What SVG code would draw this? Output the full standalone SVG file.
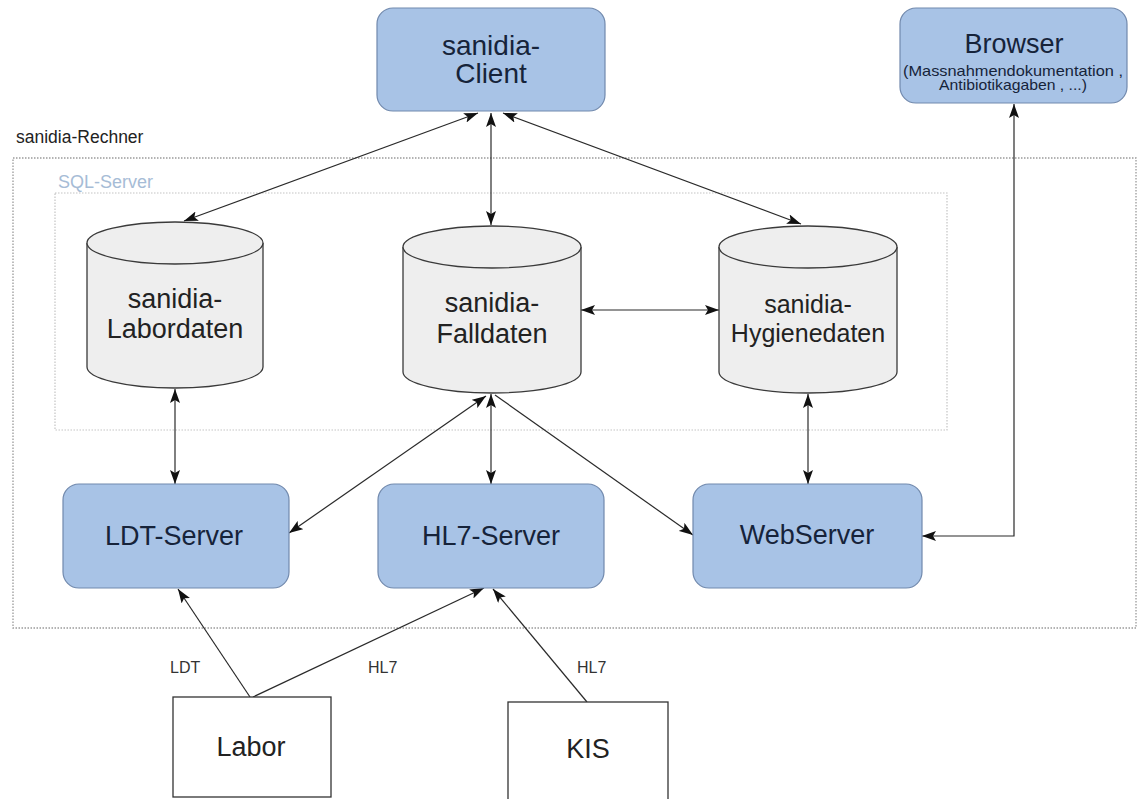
<svg xmlns="http://www.w3.org/2000/svg" width="1138" height="799" viewBox="0 0 1138 799">
<style>
.box{fill:#a8c3e6;stroke:#7189ad;stroke-width:1.2}
.cyl{fill:#eeeeee;stroke:#3a3a3a;stroke-width:1.3}
.plain{fill:#ffffff;stroke:#333333;stroke-width:1.3}
.t{font-family:"Liberation Sans",Arial,sans-serif;text-anchor:middle}
.bt{fill:#16233a;font-size:27px}
.ct{fill:#222222;font-size:27px}
.lbl{font-family:"Liberation Sans",Arial,sans-serif;font-size:16px;fill:#333333}
.con{stroke:#2a2a2a;stroke-width:1.2;fill:none}
</style>
<defs>
<marker id="ah" viewBox="0 0 14 10" refX="14" refY="5" markerWidth="14" markerHeight="10" markerUnits="userSpaceOnUse" orient="auto-start-reverse">
<path d="M0,0 L14,5 L0,10 L3,5 z" fill="#111111"/>
</marker>
</defs>
<rect width="1138" height="799" fill="#ffffff"/>

<g id="container-rechner">
<rect x="13" y="158" width="1123" height="470" fill="none" stroke="#9a9a9a" stroke-width="1.3" stroke-dasharray="1.5,1.5"/>
<text x="16" y="143" class="lbl" style="font-size:17.5px;fill:#222">sanidia-Rechner</text>
</g>
<g id="container-sql">
<rect x="55" y="193" width="892" height="237" fill="none" stroke="#c4c4c4" stroke-width="1.2" stroke-dasharray="1.5,1.5"/>
<text x="58" y="188" class="lbl" style="font-size:18px;fill:#a6bcd6">SQL-Server</text>
</g>

<g id="connectors">
<line class="con" x1="478" y1="113" x2="184" y2="221" marker-start="url(#ah)" marker-end="url(#ah)"/>
<line class="con" x1="491" y1="113" x2="491" y2="225" marker-start="url(#ah)" marker-end="url(#ah)"/>
<line class="con" x1="503" y1="113" x2="801" y2="224" marker-start="url(#ah)" marker-end="url(#ah)"/>
<line class="con" x1="581" y1="310" x2="719" y2="310" marker-start="url(#ah)" marker-end="url(#ah)"/>
<line class="con" x1="175" y1="389" x2="175" y2="484" marker-start="url(#ah)" marker-end="url(#ah)"/>
<line class="con" x1="491" y1="394" x2="491" y2="484" marker-start="url(#ah)" marker-end="url(#ah)"/>
<line class="con" x1="486" y1="396" x2="289" y2="533" marker-start="url(#ah)" marker-end="url(#ah)"/>
<line class="con" x1="495" y1="395" x2="693" y2="535" marker-end="url(#ah)"/>
<line class="con" x1="808" y1="394" x2="808" y2="484" marker-start="url(#ah)" marker-end="url(#ah)"/>
<polyline class="con" points="1014,104 1014,536 922,536" marker-start="url(#ah)" marker-end="url(#ah)"/>
<line class="con" x1="250" y1="697" x2="178" y2="589" marker-end="url(#ah)"/>
<line class="con" x1="253" y1="697" x2="484" y2="588" marker-end="url(#ah)"/>
<line class="con" x1="587" y1="702" x2="493" y2="589" marker-end="url(#ah)"/>
<text x="170" y="673" class="lbl">LDT</text>
<text x="368" y="673" class="lbl">HL7</text>
<text x="577" y="673" class="lbl">HL7</text>
</g>

<g id="client">
<rect class="box" x="377" y="8" width="228" height="103" rx="16"/>
<text class="t bt" x="491" y="55" style="font-size:28px">sanidia-</text>
<text class="t bt" x="491" y="83" style="font-size:28px">Client</text>
</g>

<g id="browser">
<rect class="box" x="900" y="8" width="227" height="95" rx="16"/>
<text class="t bt" x="1014" y="53" style="font-size:27px">Browser</text>
<text class="t bt" x="1013" y="76" style="font-size:14.5px" textLength="220" lengthAdjust="spacingAndGlyphs">(Massnahmendokumentation ,</text>
<text class="t bt" x="1013" y="90" style="font-size:14.5px" textLength="148" lengthAdjust="spacingAndGlyphs">Antibiotikagaben , ...)</text>
</g>

<g id="labordaten">
<path class="cyl" d="M87,243 A88,21 0 0 1 263,243 L263,367 A88,21 0 0 1 87,367 Z"/>
<path class="cyl" d="M87,243 A88,21 0 0 0 263,243" fill="none"/>
<text class="t ct" x="175" y="308">sanidia-</text>
<text class="t ct" x="175" y="338">Labordaten</text>
</g>

<g id="falldaten">
<path class="cyl" d="M403,247 A89,21 0 0 1 581,247 L581,372 A89,21 0 0 1 403,372 Z"/>
<path class="cyl" d="M403,247 A89,21 0 0 0 581,247" fill="none"/>
<text class="t ct" x="492" y="312">sanidia-</text>
<text class="t ct" x="492" y="343">Falldaten</text>
</g>

<g id="hygienedaten">
<path class="cyl" d="M719,247 A89,21 0 0 1 897,247 L897,372 A89,21 0 0 1 719,372 Z"/>
<path class="cyl" d="M719,247 A89,21 0 0 0 897,247" fill="none"/>
<text class="t ct" x="808" y="313" style="font-size:25px">sanidia-</text>
<text class="t ct" x="808" y="342" style="font-size:25px">Hygienedaten</text>
</g>

<g id="ldt-server">
<rect class="box" x="63" y="484" width="226" height="104" rx="16"/>
<text class="t bt" x="174" y="545">LDT-Server</text>
</g>

<g id="hl7-server">
<rect class="box" x="378" y="484" width="226" height="104" rx="16"/>
<text class="t bt" x="491" y="545">HL7-Server</text>
</g>

<g id="webserver">
<rect class="box" x="693" y="484" width="229" height="104" rx="16"/>
<text class="t bt" x="807" y="544">WebServer</text>
</g>

<g id="labor">
<rect class="plain" x="173" y="697" width="158" height="100"/>
<text class="t ct" x="251" y="756">Labor</text>
</g>

<g id="kis">
<rect class="plain" x="508" y="702" width="160" height="100"/>
<text class="t ct" x="588" y="758">KIS</text>
</g>
</svg>
